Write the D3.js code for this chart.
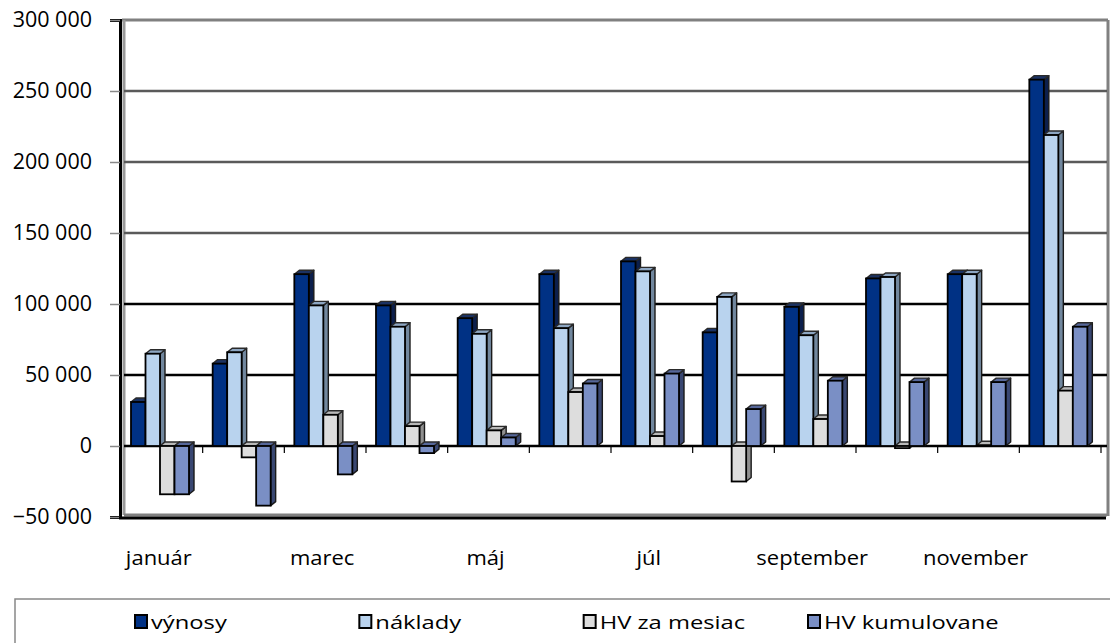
<!DOCTYPE html>
<html>
<head>
<meta charset="utf-8">
<script src="https://cdn.jsdelivr.net/npm/d3@7"></script>
<style>
  body { margin: 0; background: #fff; }
  text { font-family: "Open Sans", "DejaVu Sans", sans-serif; fill: #000; }
</style>
</head>
<body>
<svg id="chart" width="1110" height="643"></svg>
<script>
// mesiace a rady
var months = ["január", "február", "marec", "apríl", "máj", "jún", "júl", "august", "september", "október", "november", "december"];
var seriesNames = ["výnosy", "náklady", "HV za mesiac", "HV kumulovane"];
var vynosy      = [31000, 58000, 121000, 99000, 90000, 121000, 130000, 80000, 98000, 118000, 121000, 258000];
var naklady     = [65000, 66000, 99000, 84000, 79000, 83000, 123000, 105000, 78000, 119000, 121000, 219000];
var hvMesiac    = [-34000, -8000, 22000, 14000, 11000, 38000, 7000, -25000, 19000, -1500, 500, 39000];
var hvKumul     = [-34000, -42000, -20000, -5000, 6000, 44000, 51000, 26000, 46000, 45000, 45000, 84000];
var yTicks = [-50000, 0, 50000, 100000, 150000, 200000, 250000, 300000];

var seriesValues = [vynosy, naklady, hvMesiac, hvKumul];
var colors = [
  {front: "#003184", side: "#0c1f4c", top: "#1b3263"},
  {front: "#b9d3ee", side: "#71879e", top: "#8da6c2"},
  {front: "#dddddd", side: "#8f8f8f", top: "#b9b9b9"},
  {front: "#7a8fc5", side: "#394772", top: "#56679a"}
];

var svg = d3.select("#chart");
var pLeft = 121, pRight = 1101, pTop = 20, pBottom = 517;
var dx = 5, dy = 4;

var y = d3.scaleLinear().domain([-50000, 300000]).range([pBottom, pTop]);
var x = d3.scaleBand().domain(months).range([pLeft, pRight]).padding(0);
var xs = d3.scaleBand().domain(seriesNames).range([0, 58]).padding(0);
var groupOffset = 10;

var fmt = function(v) { return d3.format(",")(v).replace(/,/g, " "); };

// steny grafu
svg.append("line").attr("x1", pLeft + 1).attr("x2", pRight + 7).attr("y1", pTop).attr("y2", pTop)
  .attr("stroke", "#808080").attr("stroke-width", 3);
svg.append("line").attr("x1", pRight + 7).attr("x2", pRight + 7).attr("y1", pTop).attr("y2", pBottom - 1)
  .attr("stroke", "#808080").attr("stroke-width", 3);
svg.append("line").attr("x1", pLeft + 3).attr("x2", pLeft + 3).attr("y1", pTop).attr("y2", pBottom - 2)
  .attr("stroke", "#9a9a9a").attr("stroke-width", 3);
svg.append("line").attr("x1", pLeft + 3).attr("x2", pRight + 6).attr("y1", pBottom - 2).attr("y2", pBottom - 2)
  .attr("stroke", "#808080").attr("stroke-width", 3);

// mriezka
svg.append("g").selectAll("line")
  .data(yTicks.filter(function(d) { return d > -50000 && d < 300000; }))
  .enter().append("line")
    .attr("x1", pLeft + 3).attr("x2", pRight + 6)
    .attr("y1", function(d) { return y(d); }).attr("y2", function(d) { return y(d); })
    .attr("stroke", function(d) { return d > 100000 ? "#5a5a5a" : "#000"; })
    .attr("stroke-width", 2.4);

// os y
var yAxis = svg.append("g")
  .attr("transform", "translate(" + (pLeft - 1) + ",0)")
  .call(d3.axisLeft(y).tickValues(yTicks).tickFormat(fmt).tickSize(10).tickPadding(18));
yAxis.select(".domain").attr("stroke", "#000").attr("stroke-width", 3);
yAxis.selectAll(".tick line").attr("stroke", "#888").attr("stroke-width", 1.5);
yAxis.selectAll(".tick text").attr("font-size", 21.5).attr("font-family", "Open Sans").attr("fill", "#000");

svg.append("line").attr("x1", pLeft - 2).attr("x2", pRight + 5).attr("y1", pBottom + 1).attr("y2", pBottom + 1)
  .attr("stroke", "#000").attr("stroke-width", 3);

// znacky kategorii na nulovej osi
svg.append("g").selectAll("line")
  .data(months)
  .enter().append("line")
    .attr("x1", function(d) { return x(d) + x.bandwidth(); })
    .attr("x2", function(d) { return x(d) + x.bandwidth(); })
    .attr("y1", y(0)).attr("y2", y(0) + 7)
    .attr("stroke", "#000").attr("stroke-width", 1.2);

// 3D stlpce
var bars = [];
months.forEach(function(m, i) {
  seriesNames.forEach(function(s, j) {
    bars.push({month: m, series: s, si: j, value: seriesValues[j][i]});
  });
});

var barG = svg.append("g");
bars.forEach(function(b) {
  var x0 = x(b.month) + groupOffset + xs(b.series);
  var x1 = x0 + xs.bandwidth();
  var yv = y(b.value), y0 = y(0);
  var yt = Math.min(yv, y0), yb = Math.max(yv, y0);
  var c = colors[b.si];
  var g = barG.append("g");
  g.append("path")
    .attr("d", "M" + x1 + "," + yb + "L" + (x1 + dx) + "," + (yb - dy) + "L" + (x1 + dx) + "," + (yt - dy) + "L" + x1 + "," + yt + "Z")
    .attr("fill", c.side).attr("stroke", "#1a1a1a").attr("stroke-width", 1.4).attr("stroke-linejoin", "round");
  g.append("path")
    .attr("d", "M" + x0 + "," + yt + "L" + (x0 + dx) + "," + (yt - dy) + "L" + (x1 + dx) + "," + (yt - dy) + "L" + x1 + "," + yt + "Z")
    .attr("fill", c.top).attr("stroke", "#2a2a2a").attr("stroke-width", 1.4).attr("stroke-linejoin", "round");
  g.append("rect")
    .attr("x", x0).attr("y", yt)
    .attr("width", x1 - x0).attr("height", Math.max(yb - yt, 0.5))
    .attr("fill", c.front).attr("stroke", "#000").attr("stroke-width", 1.8);
});

// popisky mesiacov (kazdy druhy)
svg.append("g").selectAll("text")
  .data(months.filter(function(d, i) { return i % 2 === 0; }))
  .enter().append("text")
    .attr("transform", function(d) { return "translate(" + (x(d) + x.bandwidth() / 2 - 3) + ",565) scale(1.1,1)"; })
    .attr("text-anchor", "middle")
    .attr("font-size", 20)
    .text(function(d) { return d; });

// legenda
svg.append("rect").attr("x", 15).attr("y", 599).attr("width", 1110).attr("height", 60)
  .attr("fill", "none").attr("stroke", "#888").attr("stroke-width", 1.5);
var lx = d3.scalePoint().domain(seriesNames).range([135, 808]);
var leg = svg.append("g").selectAll("g")
  .data(seriesNames)
  .enter().append("g")
    .attr("transform", function(d) { return "translate(" + lx(d) + ",615)"; });
leg.append("rect").attr("x", 0).attr("y", 0).attr("width", 12).attr("height", 13)
  .attr("fill", function(d, i) { return colors[i].front; })
  .attr("stroke", "#000").attr("stroke-width", 2);
leg.append("text")
  .attr("transform", "translate(16,14) scale(1.25,1)")
  .attr("font-size", 19)
  .text(function(d) { return d; });
</script>
</body>
</html>
